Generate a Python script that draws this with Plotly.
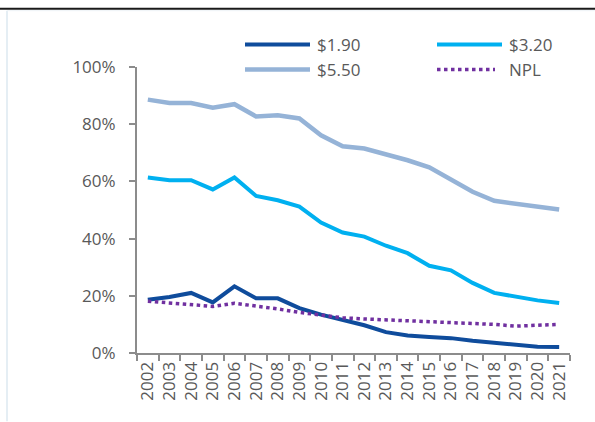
import plotly.graph_objects as go

years = [str(y) for y in range(2002, 2022)]
pov_190 = [18.6, 19.6, 21.0, 17.7, 23.3, 19.1, 19.1, 15.7, 13.4, 11.4, 9.7, 7.3, 6.1, 5.6, 5.2, 4.3, 3.5, 2.7, 2.2, 2.1]
pov_320 = [61.4, 60.4, 60.4, 57.2, 61.4, 54.9, 53.4, 51.2, 45.6, 42.1, 40.7, 37.5, 34.9, 30.5, 28.9, 24.5, 21.0, 19.6, 18.4, 17.5]
pov_550 = [88.6, 87.4, 87.4, 85.8, 87.0, 82.7, 83.1, 82.0, 76.1, 72.3, 71.5, 69.5, 67.4, 64.9, 60.5, 56.4, 53.2, 52.1, 51.2, 50.2]
npl = [18.1, 17.5, 16.8, 16.3, 17.4, 16.5, 15.4, 14.2, 13.2, 12.3, 11.9, 11.6, 11.3, 11.0, 10.8, 10.5, 10.0, 9.4, 9.6, 10.0]
series_names = ["$1.90", "$3.20", "$5.50", "NPL"]
series_colors = ["#0f4c9c", "#00b0f0", "#95b3d7", "#7030a0"]

def frac(v):
    return [x / 100 for x in v]

FONT = "Open Sans"
GREY = "#595959"

styles = [dict(width=4), dict(width=4), dict(width=4.5), dict(width=3.5, dash="dot")]
values = [pov_190, pov_320, pov_550, npl]

fig = go.Figure()
for name, col, st, v in zip(series_names, series_colors, styles, values):
    fig.add_trace(go.Scatter(x=years, y=frac(v), mode="lines", name=name,
                             line=dict(color=col, **st), showlegend=False))

L, R, T, B = 137, 25, 66.5, 68.5
W, H = 595, 422
pw, ph = W - L - R, H - T - B

def px(x):
    return (x - L) / pw

def py(y):
    return (H - B - y) / ph

shapes = [
    dict(type="line", xref="paper", yref="paper", x0=px(0), x1=px(W), y0=py(8), y1=py(8),
         line=dict(color="#1a1a1a", width=2)),
    dict(type="line", xref="paper", yref="paper", x0=px(7), x1=px(7), y0=py(10), y1=py(H),
         line=dict(color="#dde8f0", width=1.5)),
    dict(type="line", xref="paper", yref="paper", x0=px(7), x1=px(W), y0=py(10), y1=py(10),
         line=dict(color="#eef3f7", width=1)),
]
annotations = []
# manual legend (2 x 2 grid)
leg_pos = [(245, 44), (437, 44), (245, 69), (437, 69)]
for (lx, ly), name, col, st in zip(leg_pos, series_names, series_colors, styles):
    length = 58 if st.get("dash") else 65
    shapes.append(dict(type="line", xref="paper", yref="paper", x0=px(lx), x1=px(lx + length),
                       y0=py(ly), y1=py(ly), line=dict(color=col, **st)))
    annotations.append(dict(xref="paper", yref="paper", x=px(lx + 70), y=py(ly),
                            xanchor="left", yanchor="middle", showarrow=False, text=name,
                            font=dict(size=17, color=GREY, family=FONT)))

fig.update_layout(
    width=W, height=H,
    margin=dict(l=L, r=R, t=T, b=B),
    paper_bgcolor="white", plot_bgcolor="white",
    font=dict(family=FONT, color=GREY, size=16),
    showlegend=False,
    xaxis=dict(type="category", range=[-0.5, 19.5], showgrid=False, showline=True,
               linecolor="#8c8c8c", linewidth=2, ticks="outside", tickson="boundaries",
               ticklen=6, tickwidth=2, tickcolor="#8c8c8c", tickangle=-90,
               tickfont=dict(size=17, color=GREY), zeroline=False, fixedrange=True),
    yaxis=dict(range=[0, 1], tickvals=[0, 0.2, 0.4, 0.6, 0.8, 1.0], tickformat=".0%",
               showgrid=False, showline=True, linecolor="#8c8c8c", linewidth=2,
               ticks="outside", ticklen=6, tickwidth=2, tickcolor="#8c8c8c",
               ticklabelstandoff=10,
               tickfont=dict(size=17, color=GREY), zeroline=False, fixedrange=True),
    shapes=shapes,
    annotations=annotations,
)

fig.write_html("out.html", config={"displayModeBar": False},
               post_script="document.body.style.margin='0';")
